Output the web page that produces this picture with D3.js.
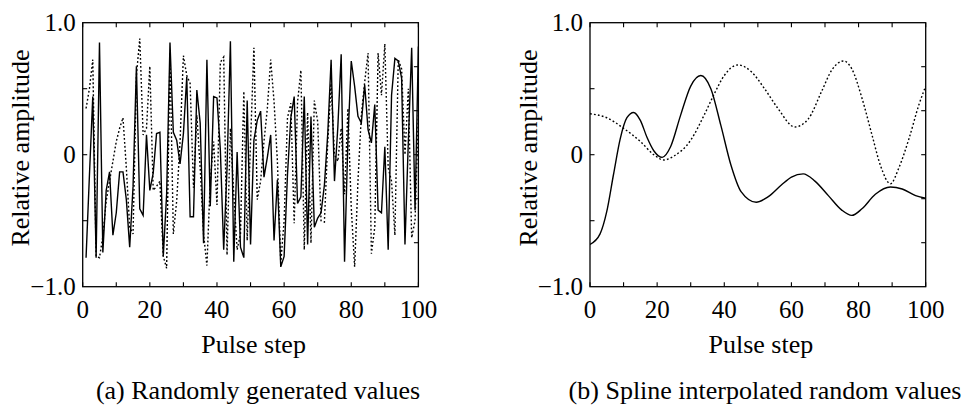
<!DOCTYPE html>
<meta charset="utf-8">
<head>
    <script type="text/javascript" src="https://cdn.jsdelivr.net/npm/d3@7/dist/d3.min.js"></script>
    <style>
        body { margin: 0; background: white; }
        text { font-family: "Liberation Serif", "DejaVu Serif", serif; fill: black; }
    </style>
    <title></title>
</head>
<body>
<script>

    var width = 972
    var height = 405

    // (a) randomly generated values, steps 1..100
    var steps = d3.range(1, 101)
    var randomSolid = [
        -0.78, -0.16, 0.44, -0.78, 0.85, -0.74, -0.27, -0.13, -0.61, -0.44,
        -0.13, -0.13, -0.34, -0.70, -0.24, 0.67, -0.41, -0.46, 0.15, -0.27,
        -0.14, 0.16, 0.17, -0.77, -0.30, 0.85, 0.17, 0.11, -0.07, 0.16,
        0.59, -0.47, -0.47, 0.49, 0.24, -0.67, 0.72, -0.39, 0.44, 0.43,
        0.04, -0.72, -0.10, 0.86, -0.81, 0.02, -0.70, -0.78, 0.41, -0.68,
        0.11, 0.26, 0.33, -0.17, -0.02, 0.15, -0.65, -0.19, -0.85, -0.77,
        -0.15, 0.28, 0.44, -0.37, -0.32, 0.44, -0.68, 0.29, -0.55, -0.48,
        -0.44, -0.23, 0.16, 0.72, -0.20, 0.21, 0.76, -0.81, 0.11, 0.71,
        0.52, 0.29, 0.24, 0.53, 0.19, 0.09, 0.38, -0.42, -0.44, 0.06,
        -0.72, 0.45, 0.73, 0.71, 0.58, -0.68, 0.10, 0.81, -0.42, 0.82
    ]
    var randomDotted = [
        0.35, 0.50, 0.72, -0.77, -0.78, -0.62, -0.35, -0.20, -0.05, 0.10,
        0.20, 0.28, -0.10, -0.55, -0.60, 0.60, 0.88, 0.15, 0.20, 0.67,
        -0.27, -0.24, -0.20, -0.77, -0.86, 0.77, -0.60, -0.35, 0.10, 0.75,
        0.60, 0.54, -0.25, 0.30, -0.10, -0.60, -0.84, -0.20, 0.10, -0.38,
        0.70, 0.74, -0.76, 0.20, -0.30, -0.72, -0.60, 0.48, -0.65, 0.10,
        0.81, -0.34, -0.20, 0.10, 0.35, 0.72, 0.40, -0.05, -0.82, -0.50,
        0.28, 0.39, -0.52, 0.40, 0.64, -0.72, 0.32, -0.67, 0.41, 0.25,
        -0.50, -0.51, 0.10, 0.54, 0.00, -0.05, 0.20, -0.30, 0.35, -0.40,
        -0.85, -0.20, 0.30, 0.55, 0.77, -0.75, -0.55, 0.77, 0.45, 0.84,
        -0.10, -0.20, -0.61, 0.72, 0.65, 0.00, 0.50, -0.63, -0.50, 0.30
    ]

    // (b) spline interpolated random values (read at knots)
    var splineSolidX = [0, 3, 5, 7, 9, 11, 13, 15, 17, 19, 21.5, 24, 27, 30, 33, 36, 39, 42, 45, 49.5,
        53, 57, 60, 63.5, 67, 71, 75, 78, 81, 85, 89.5, 93, 97, 100]
    var splineSolidY = [-0.68, -0.60, -0.43, -0.15, 0.12, 0.28, 0.32, 0.26, 0.13, 0.03, -0.02, 0.06, 0.30, 0.52, 0.60, 0.50, 0.22, -0.08, -0.28, -0.36,
        -0.32, -0.23, -0.17, -0.145, -0.20, -0.31, -0.42, -0.46, -0.41, -0.30, -0.245, -0.26, -0.31, -0.33]
    var splineDottedX = [0, 5, 10, 15, 19, 22, 25, 30, 34, 37, 40, 44, 48, 52, 56, 61, 65, 69, 72, 75.5,
        78, 81, 84, 86.5, 89.5, 92, 95, 98, 100]
    var splineDottedY = [0.31, 0.28, 0.20, 0.10, 0.00, -0.04, -0.01, 0.11, 0.30, 0.46, 0.60, 0.68, 0.63, 0.50, 0.35, 0.21, 0.27, 0.48, 0.64, 0.71,
        0.65, 0.43, 0.15, -0.08, -0.22, -0.10, 0.12, 0.38, 0.52]

    var panels = [
        {left: 82.7, caption: "(a) Randomly generated values", capX: 258,
            solid: steps.map((s, i) => [s, randomSolid[i]]),
            dotted: steps.map((s, i) => [s, randomDotted[i]]),
            curve: d3.curveLinear},
        {left: 590, caption: "(b) Spline interpolated random values", capX: 765,
            solid: splineSolidX.map((s, i) => [s, splineSolidY[i]]),
            dotted: splineDottedX.map((s, i) => [s, splineDottedY[i]]),
            curve: d3.curveMonotoneX}
    ]

    var plotW = 335.7
    var plotTop = 22.7
    var plotBottom = 286.7
    var tickLen = 4.5

    var svg = d3.select("body").append("svg")
        .attr("width", width)
        .attr("height", height)

    panels.forEach(function (p, k) {
        var x = d3.scaleLinear().domain([0, 100]).range([p.left, p.left + plotW])
        var y = d3.scaleLinear().domain([-1, 1]).range([plotBottom, plotTop])
        var g = svg.append("g")

        g.append("clipPath").attr("id", "clip" + k)
            .append("rect").attr("x", p.left).attr("y", plotTop)
            .attr("width", plotW).attr("height", plotBottom - plotTop)

        var line = d3.line().x(d => x(d[0])).y(d => y(d[1])).curve(p.curve)

        g.append("path").datum(p.dotted)
            .attr("d", line)
            .attr("clip-path", "url(#clip" + k + ")")
            .style("fill", "none").style("stroke", "black")
            .style("stroke-width", 1.4).style("stroke-dasharray", "1.8,2.2")

        g.append("path").datum(p.solid)
            .attr("d", line)
            .attr("clip-path", "url(#clip" + k + ")")
            .style("fill", "none").style("stroke", "black")
            .style("stroke-width", 1.4)

        // ticks, all pointing inward
        var xt = d3.range(0, 101, 10)
        g.selectAll(".tb").data(xt).enter().append("line")
            .attr("x1", d => x(d)).attr("x2", d => x(d))
            .attr("y1", plotBottom).attr("y2", plotBottom - tickLen)
            .style("stroke", "black").style("stroke-width", 1.1)
        g.selectAll(".tt").data(xt).enter().append("line")
            .attr("x1", d => x(d)).attr("x2", d => x(d))
            .attr("y1", plotTop).attr("y2", plotTop + tickLen)
            .style("stroke", "black").style("stroke-width", 1.1)
        g.selectAll(".tl").data([-0.5, 0, 0.5]).enter().append("line")
            .attr("x1", p.left).attr("x2", p.left + tickLen)
            .attr("y1", d => y(d)).attr("y2", d => y(d))
            .style("stroke", "black").style("stroke-width", 1.1)
        g.selectAll(".tr").data([-2 / 3, -1 / 3, 0, 1 / 3, 2 / 3]).enter().append("line")
            .attr("x1", p.left + plotW).attr("x2", p.left + plotW - tickLen)
            .attr("y1", d => y(d)).attr("y2", d => y(d))
            .style("stroke", "black").style("stroke-width", 1.1)

        g.append("rect")
            .attr("x", p.left).attr("y", plotTop)
            .attr("width", plotW).attr("height", plotBottom - plotTop)
            .style("fill", "none").style("stroke", "black").style("stroke-width", 1.3)

        // tick labels
        g.selectAll(".xl").data(d3.range(0, 101, 20)).enter().append("text")
            .attr("x", d => x(d)).attr("y", 318)
            .attr("text-anchor", "middle")
            .style("font-size", "25px")
            .text(d => d)
        g.selectAll(".yl").data([[-1, "\u22121.0"], [0, "0"], [1, "1.0"]]).enter().append("text")
            .attr("x", p.left - 7).attr("y", d => y(d[0]) + 8)
            .attr("text-anchor", "end")
            .style("font-size", "25px")
            .text(d => d[1])

        // axis titles
        g.append("text")
            .attr("x", p.left + plotW / 2 + 3).attr("y", 353)
            .attr("text-anchor", "middle")
            .style("font-size", "26px")
            .text("Pulse step")
        g.append("text")
            .attr("transform", "translate(" + (p.left - 53.5) + "," + 148 + ") rotate(-90)")
            .attr("text-anchor", "middle")
            .style("font-size", "26px")
            .text("Relative amplitude")

        g.append("text")
            .attr("x", p.capX).attr("y", 399)
            .attr("text-anchor", "middle")
            .style("font-size", "26px")
            .text(p.caption)
    })

</script>
</body>
</html>
